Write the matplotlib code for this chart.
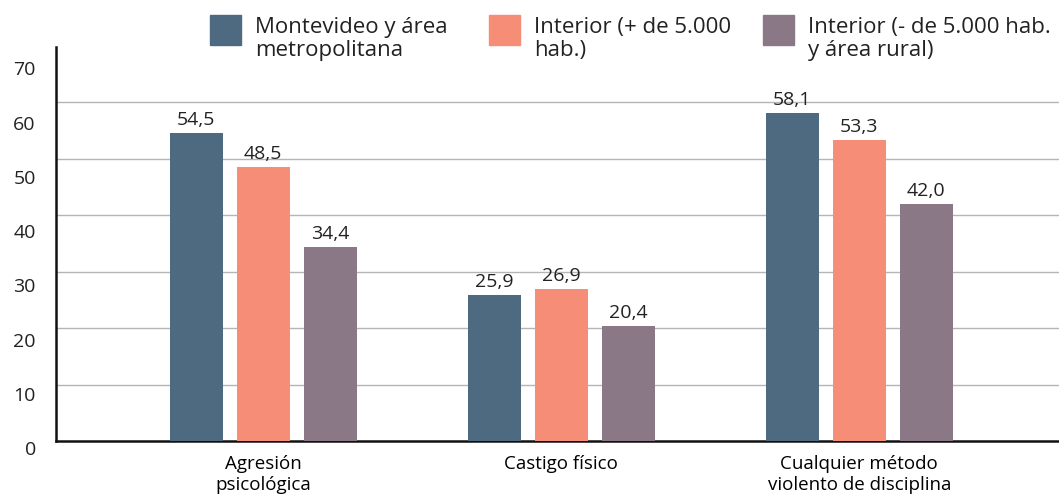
import matplotlib.pyplot as plt
from matplotlib.patches import Rectangle
import numpy as np

plt.rcParams['font.family'] = ['Open Sans', 'DejaVu Sans']

categories = ["Agresión\npsicológica", "Castigo físico", "Cualquier método\nviolento de disciplina"]
series_names = ["Montevideo y área\nmetropolitana", "Interior (+ de 5.000\nhab.)",
                "Interior (- de 5.000 hab.\ny área rural)"]
values = [
    [54.5, 25.9, 58.1],
    [48.5, 26.9, 53.3],
    [34.4, 20.4, 42.0],
]
colors = ["#4D6A80", "#F68D76", "#8A7887"]
yticks = [0, 10, 20, 30, 40, 50, 60, 70]

fig = plt.figure(figsize=(10.59, 4.94), dpi=100)
ax = fig.add_axes([56 / 1059, 53 / 494, 1 - 56 / 1059, (441 - 47) / 494])

x = np.arange(len(categories))
width = 0.178
step = 0.225
for i, (vals, col) in enumerate(zip(values, colors)):
    pos = x + (i - 1) * step
    ax.bar(pos, vals, width=width, color=col, zorder=3)
    for p, v in zip(pos, vals):
        ax.annotate(f"{v:.1f}".replace(".", ","), (p, v), xytext=(0, 3),
                    textcoords="offset points", ha="center", va="bottom",
                    fontsize=14, color="#222222", zorder=4)

for g in yticks[1:-1]:
    ax.axhline(g, color="#b5b5b5", lw=1, zorder=1)

ax.set_xlim(-0.695, 2.67)
ax.set_ylim(0, 69.8)

# y labels sit slightly off the gridlines in the original, so draw them by hand
ax.set_yticks([])
for v in yticks:
    ax.annotate(str(v), (0, -1.6 + v * 0.961), xycoords=ax.get_yaxis_transform(),
                xytext=(-14.5, 0), textcoords="offset points", ha="right", va="center",
                fontsize=14, color="#222222", annotation_clip=False)

ax.set_xticks(x)
ax.set_xticklabels(categories, fontsize=13.5, linespacing=1.2)
ax.tick_params(axis="x", length=0, pad=10)

for s in ["top", "right"]:
    ax.spines[s].set_visible(False)
for s in ["left", "bottom"]:
    ax.spines[s].set_linewidth(1.8)
    ax.spines[s].set_color("#111111")

# legend drawn by hand across the top
leg_x = [210, 489, 763]
for lx, name, col in zip(leg_x, series_names, colors):
    fig.patches.append(Rectangle((lx / 1059, 1 - 45 / 494), 31 / 1059, 30 / 494,
                                 transform=fig.transFigure, color=col))
    fig.text((lx + 45) / 1059, 1 - 17 / 494, name, fontsize=16, va="top", ha="left",
             linespacing=1.1, color="#222222")

fig.savefig("out.png", dpi=100)
